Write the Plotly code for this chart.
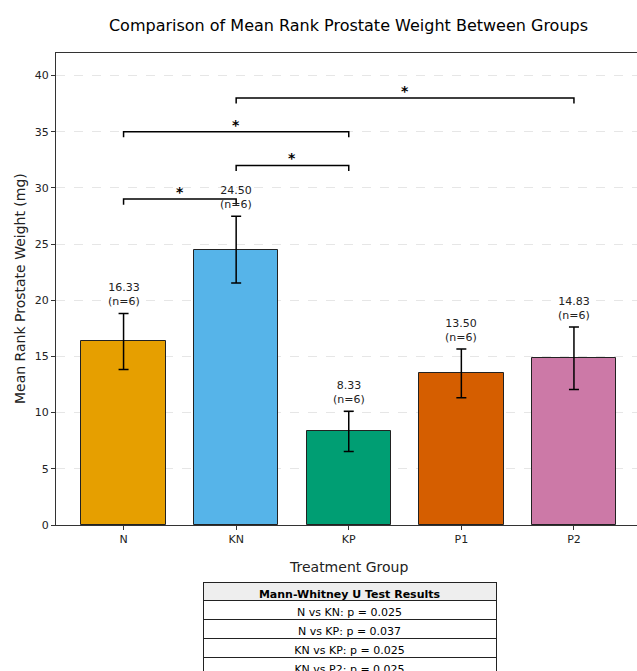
import plotly.graph_objects as go

groups = ["N", "KN", "KP", "P1", "P2"]
means = [16.33, 24.50, 8.33, 13.50, 14.83]
errors = [2.5, 2.97, 1.8, 2.17, 2.78]
n_per_group = [6, 6, 6, 6, 6]
colors = ["#E69F00", "#56B4E9", "#009E73", "#D55E00", "#CC79A7"]

bracket_pairs = [("N", "KN"), ("KN", "KP"), ("N", "KP"), ("KN", "P2")]
bracket_heights = [29, 32, 35, 38]
bracket_marks = ["*", "*", "*", "*"]

table_header = "Mann-Whitney U Test Results"
table_rows = ["N vs KN: p = 0.025", "N vs KP: p = 0.037",
              "KN vs KP: p = 0.025", "KN vs P2: p = 0.025"]

FONT = "DejaVu Sans"
W, H = 637, 671
mt, mb, ml, mr = 53, 0, 56, 0
ph = H - mt - mb
pw = W - ml - mr

def ydom(py):
    return (H - mb - py) / ph

def xdom(px):
    return (px - ml) / pw

fig = go.Figure()
fig.add_trace(go.Bar(
    x=list(range(len(groups))), y=means, width=0.75,
    marker=dict(color=colors, line=dict(color="#222222", width=1)),
    error_y=dict(type="data", array=errors, visible=True, color="black",
                 thickness=1.5, width=5),
    showlegend=False, hoverinfo="skip",
))

annotations = []
for i, (m, e, n) in enumerate(zip(means, errors, n_per_group)):
    annotations.append(dict(
        x=i, y=m + e, xref="x", yref="y", yanchor="bottom", yshift=3,
        text=f"{m:.2f}<br>(n={n})", showarrow=False,
        font=dict(family=FONT, size=11, color="#222222")))

shapes = []
for (a, b), h, mk in zip(bracket_pairs, bracket_heights, bracket_marks):
    x1, x2 = groups.index(a), groups.index(b)
    shapes.append(dict(
        type="path", xref="x", yref="y",
        path=f"M {x1},{h-0.5} L {x1},{h} L {x2},{h} L {x2},{h-0.5}",
        line=dict(color="black", width=1.5)))
    annotations.append(dict(
        x=(x1 + x2) / 2, y=h, xref="x", yref="y", yanchor="bottom", yshift=-3,
        text=f"<b>{mk}</b>", showarrow=False,
        font=dict(family=FONT, size=14, color="black")))

annotations.append(dict(
    x=xdom(348.5), y=ydom(567), xref="paper", yref="paper",
    xanchor="center", yanchor="middle", showarrow=False,
    text="Treatment Group", font=dict(family=FONT, size=14, color="#222222")))
annotations.append(dict(
    x=xdom(20), y=ydom(289), xref="paper", yref="paper",
    xanchor="center", yanchor="middle", showarrow=False, textangle=-90,
    text="Mean Rank Prostate Weight (mg)",
    font=dict(family=FONT, size=14, color="#222222")))

fig.add_trace(go.Table(
    domain=dict(x=[xdom(203), xdom(496)], y=[0, ydom(582)]),
    columnwidth=[1],
    header=dict(values=[table_header], fill_color="#eeeeee",
                line=dict(color="#222222", width=1), align="center",
                font=dict(family=FONT, size=11, color="black", weight="bold"),
                height=18),
    cells=dict(values=[table_rows], fill_color="white",
               line=dict(color="#222222", width=1), align="center",
               font=dict(family=FONT, size=11, color="black"), height=19),
))

fig.update_layout(
    width=W, height=H,
    margin=dict(l=ml, r=mr, t=mt, b=mb, autoexpand=False),
    plot_bgcolor="white", paper_bgcolor="white",
    font=dict(family=FONT, color="#222222"),
    title=dict(text="Comparison of Mean Rank Prostate Weight Between Groups",
               x=348.5 / W, xanchor="center",
               y=1 - 25 / H, yanchor="middle",
               font=dict(family=FONT, size=16, color="black")),
    xaxis=dict(
        domain=[0, 1], range=[-0.6, 4.56], automargin=False,
        tickmode="array", tickvals=list(range(len(groups))), ticktext=groups,
        ticks="outside", ticklen=4, tickcolor="#333333",
        showline=True, linecolor="#333333", linewidth=1, mirror=True,
        showgrid=False, zeroline=False,
        tickfont=dict(family=FONT, size=11, color="#222222"),
    ),
    yaxis=dict(
        domain=[ydom(525), 1], range=[0, 42], automargin=False,
        tickmode="array", tickvals=[0, 5, 10, 15, 20, 25, 30, 35, 40],
        ticks="outside", ticklen=4, tickcolor="#333333",
        showline=True, linecolor="#333333", linewidth=1,
        showgrid=True, gridcolor="#e6e6e6", griddash="dash", gridwidth=1,
        zeroline=False,
        tickfont=dict(family=FONT, size=11, color="#222222"),
    ),
    annotations=annotations,
    shapes=shapes,
    bargap=0,
)

fig.write_html("out.html")
